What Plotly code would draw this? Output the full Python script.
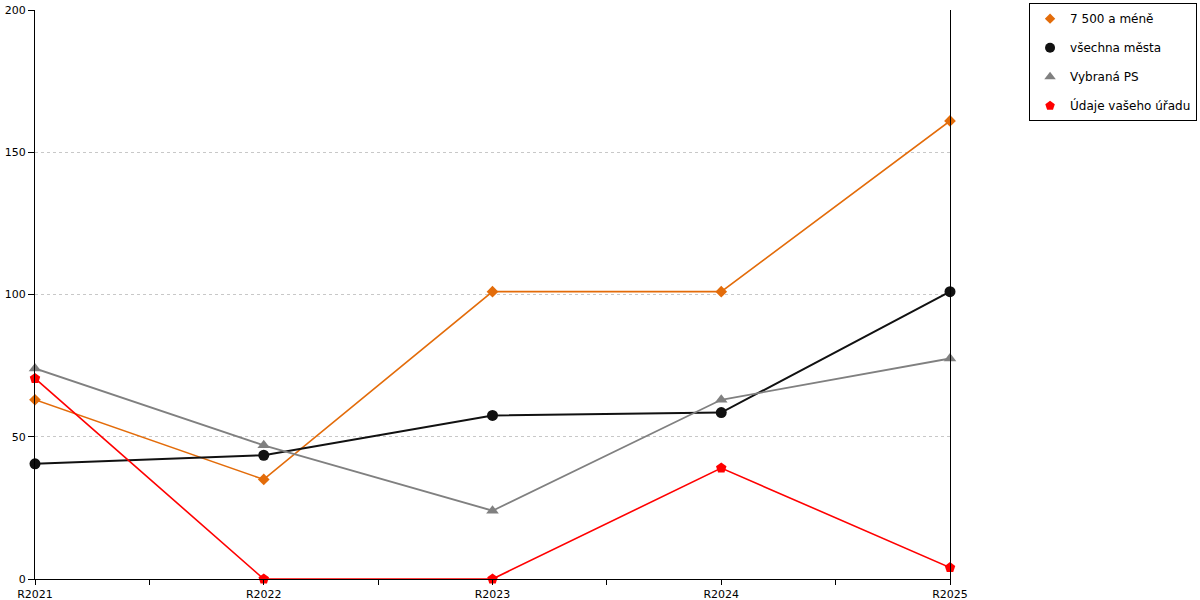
import plotly.graph_objects as go

years = ["R2021", "R2022", "R2023", "R2024", "R2025"]
s_small = [63, 35, 101, 101, 161]
s_all = [40.5, 43.5, 57.5, 58.5, 101]
s_ps = [74, 47, 24, 63, 77.5]
s_office = [70.5, 0, 0, 39, 4]

names = ["7 500 a méně", "všechna města", "Vybraná PS", "Údaje vašeho úřadu"]
colors = ["#E36C0A", "#111111", "#808080", "#FF0000"]
widths = [1.6, 2, 1.8, 1.6]
symbols = ["diamond", "circle", "triangle-up", "pentagon"]
sizes = [9, 11, 11, 11]
series = [s_small, s_all, s_ps, s_office]

xi = list(range(len(years)))

fig = go.Figure()
# invisible trace so the right-hand axis line is drawn
fig.add_trace(go.Scatter(x=[None], y=[None], yaxis="y2", showlegend=False,
                         hoverinfo="skip"))
for i, (nm, c, w, sym, sz, vals) in enumerate(zip(names, colors, widths, symbols, sizes, series)):
    fig.add_trace(go.Scatter(
        x=xi, y=vals, name=nm, mode="lines+markers",
        line=dict(color=c, width=w),
        marker=dict(symbol=sym, size=sz, color=c),
        showlegend=False,
        cliponaxis=False,
    ))
    # legend entry (marker only)
    fig.add_trace(go.Scatter(
        x=[None], y=[None], name=nm, mode="markers",
        marker=dict(symbol=sym, size=sz - 1, color=c),
        legendgroup=str(i), showlegend=True,
    ))

tickvals = []
ticktext = []
for i, y in enumerate(years):
    tickvals.append(i)
    ticktext.append(y)
    if i < len(years) - 1:
        tickvals.append(i + 0.5)
        ticktext.append("")

fig.update_layout(
    width=1200, height=600,
    margin=dict(l=35, r=250, t=10, b=21, autoexpand=False),
    plot_bgcolor="white", paper_bgcolor="white",
    font=dict(family="DejaVu Sans", size=11, color="#000"),
    showlegend=True,
    legend=dict(
        x=1.27, y=1.012, xanchor="right", yanchor="top",
        bordercolor="#000", borderwidth=1,
        font=dict(size=12), tracegroupgap=10,
        traceorder="grouped", itemwidth=30,
    ),
    xaxis=dict(
        range=[0, len(years) - 1], tickvals=tickvals, ticktext=ticktext,
        showgrid=False, zeroline=False, showline=True, linecolor="#000",
        linewidth=1, ticks="outside", ticklen=5, tickcolor="#000",
        tickfont=dict(size=11),
    ),
    yaxis=dict(
        range=[0, 200], tickvals=[0, 50, 100, 150, 200],
        showgrid=True, gridcolor="#C8C8C8", griddash="dot", gridwidth=1,
        zeroline=False, showline=True, linecolor="#000", linewidth=1,
        ticks="outside", ticklen=6, tickcolor="#000",
        tickfont=dict(size=11),
    ),
    yaxis2=dict(
        range=[0, 200], overlaying="y", side="right", anchor="x",
        showline=True, linecolor="#000", linewidth=1,
        showgrid=False, zeroline=False, showticklabels=False, ticks="",
    ),
)

fig.write_html("out.html", config={"displayModeBar": False},
               post_script="document.body.style.margin='0';")
